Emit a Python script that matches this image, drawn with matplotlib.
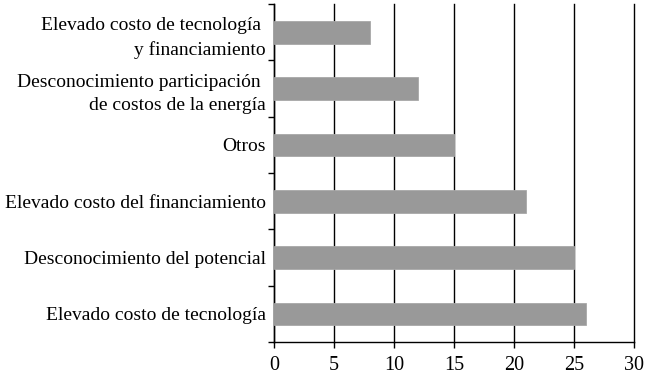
import matplotlib.pyplot as plt
import numpy as np

plt.rcParams['font.family'] = ['Liberation Serif', 'DejaVu Serif']

categorias = [
    'Elevado costo de tecnología',
    'Desconocimiento del potencial',
    'Elevado costo del financiamiento',
    'Otros',
    'Desconocimiento participación \nde costos de la energía',
    'Elevado costo de tecnología \ny financiamiento',
]
valores = [26, 25, 21, 15, 12, 8]
xticks = [0, 5, 10, 15, 20, 25, 30]

fig = plt.figure(figsize=(6.5, 3.79), dpi=100)
ax = fig.add_axes([0.4215, 0.0976, 0.5535, 0.8914])

y = np.arange(len(categorias))
ax.barh(y, valores, height=0.4, color='#999999', edgecolor='#a8a8a8', linewidth=0.6, zorder=3)

ax.set_xlim(0, 30)
ax.set_ylim(-0.5, len(categorias) - 0.5)
ax.set_xticks(xticks)
ax.set_yticks(y)
ax.set_yticklabels(categorias, fontsize=14, ha='right', multialignment='right',
                   linespacing=1.5)
ax.set_yticks(np.arange(-0.5, len(categorias), 1), minor=True)
ax.tick_params(axis='y', which='major', length=0, pad=6)
ax.tick_params(axis='y', which='minor', length=4, width=1, direction='out')
ax.tick_params(axis='x', length=4, width=1, direction='out', labelsize=14.5, pad=6)

ax.xaxis.grid(True, color='black', linewidth=1, zorder=0)
for gl in ax.get_xgridlines():
    gl.set_clip_on(False)
ax.set_axisbelow(True)
for s in ['top', 'right']:
    ax.spines[s].set_visible(False)
for s in ['left', 'bottom']:
    ax.spines[s].set_linewidth(1)

plt.savefig('out.png', dpi=100)
